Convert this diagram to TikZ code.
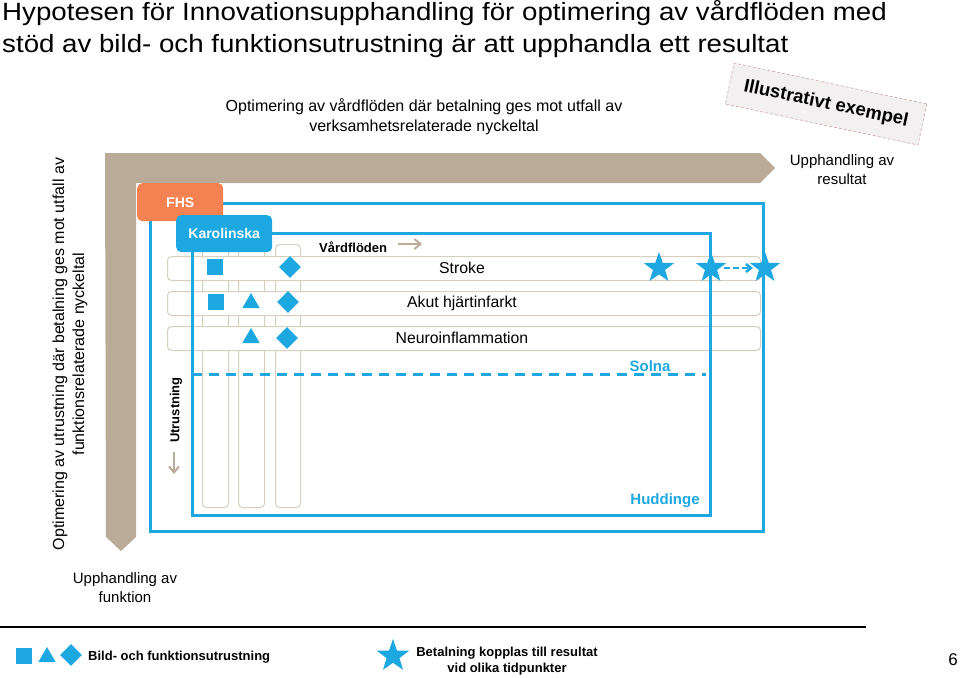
\documentclass[tikz,border=0pt]{standalone}
\usepackage{fontspec}
\setmainfont{Liberation Sans}
\usetikzlibrary{shapes.geometric,arrows.meta}
\definecolor{brn}{RGB}{186,170,152}
\definecolor{brnarr}{RGB}{190,172,155}
\definecolor{blu}{RGB}{30,168,226}
\definecolor{org}{RGB}{245,130,82}
\definecolor{beige}{RGB}{216,208,190}
\definecolor{stampfill}{RGB}{242,240,240}
\definecolor{stampline}{RGB}{200,150,150}
\newcommand{\fsz}[1]{\fontsize{#1}{#1}\selectfont}
\begin{document}
\begin{tikzpicture}[x=1pt,y=-1pt,
  txt/.style={inner sep=0pt, align=center},
  rowbox/.style={draw=beige, line width=1pt, rounded corners=4pt, fill=white, anchor=north west, inner sep=0pt},
  colbox/.style={draw=beige, line width=1pt, rounded corners=4pt, fill=white, anchor=north west, inner sep=0pt},
  bluerect/.style={draw=blu, line width=3pt},
  tab/.style={rounded corners=5pt, inner sep=0pt, text=white, font=\fsz{14}\bfseries, anchor=north west},
  bsq/.style={rectangle, fill=blu, minimum size=16pt, inner sep=0pt},
  btri/.style={regular polygon, regular polygon sides=3, fill=blu, minimum size=20pt, inner sep=0pt},
  bdia/.style={diamond, fill=blu, minimum size=22pt, inner sep=0pt},
  bstar/.style={star, star points=5, star point ratio=2.5, fill=blu, minimum size=32pt, inner sep=0pt},
  rowtxt/.style={txt, font=\fsz{15.8}},
  sitetxt/.style={txt, font=\fsz{15}\bfseries, text=blu}
]
\useasboundingbox (0,0) rectangle (960,677);

% title
\node[txt, anchor=north west, align=left, font=\fsz{25}, xscale=1.107, transform shape] (title) at (2,0)
  {Hypotesen för Innovationsupphandling för optimering av vårdflöden med\\[7pt]stöd av bild- och funktionsutrustning är att upphandla ett resultat};

% top label
\node[txt, font=\fsz{16}] (toplabel) at (424,117) {Optimering av vårdflöden där betalning ges mot utfall av\\[4pt]verksamhetsrelaterade nyckeltal};

% left label
\node[txt, font=\fsz{16}, rotate=90] (leftlabel) at (70,354) {Optimering av utrustning där betalning ges mot utfall av\\[4pt]funktionsrelaterade nyckeltal};

% stamp
\node[draw=stampline, densely dashed, line width=0.5pt, fill=stampfill, rotate=-12, font=\fsz{18.5}\bfseries, minimum width=197pt, minimum height=42pt, inner sep=0pt] (stamp) at (826,104) {Illustrativt exempel};

% brown L-arrow
\fill[brn] (105,153) -- (760,153) -- (775,168) -- (760,183) -- (136,183) -- (136,537) -- (121,551) -- (106,537) -- cycle;

\node[txt, font=\fsz{15}] (upres) at (842,170) {Upphandling av\\[4pt]resultat};
\node[txt, font=\fsz{15}] (upfun) at (125,588) {Upphandling av\\[4pt]funktion};

% columns
\node[colbox, minimum width=26pt, minimum height=263pt] (col1) at (202,244) {};
\node[colbox, minimum width=26pt, minimum height=263pt] (col2) at (238,244) {};
\node[colbox, minimum width=25pt, minimum height=263pt] (col3) at (275,244) {};

% rows
\node[rowbox, minimum width=593pt, minimum height=24pt] (row1) at (167,256) {};
\node[rowbox, minimum width=593pt, minimum height=24pt] (row2) at (167,291) {};
\node[rowbox, minimum width=593pt, minimum height=24pt] (row3) at (167,326) {};

% blue frames
\draw[bluerect] (150,203) rectangle (763,531);
\draw[bluerect] (192,233) rectangle (710,515);
\draw[draw=blu, line width=3pt, dash pattern=on 10pt off 7pt] (192,374) -- (706,374);

% tabs
\node[tab, fill=org, minimum width=86pt, minimum height=38pt] (fhs) at (137,183) {FHS};
\node[tab, fill=blu, minimum width=96pt, minimum height=37pt] (karo) at (176,215) {Karolinska};

% row texts
\node[rowtxt] (stroke) at (462,268) {Stroke};
\node[rowtxt] (akut) at (462,303) {Akut hjärtinfarkt};
\node[rowtxt] (neuro) at (462,338) {Neuroinflammation};

% shapes in rows
\node[bsq] (s1) at (215,267) {};
\node[bdia] (d1) at (290,267) {};
\node[bsq] (s2) at (216,302) {};
\node[btri] (t2) at (251,303) {};
\node[bdia] (d2) at (288,302) {};
\node[btri] (t3) at (251,338) {};
\node[bdia] (d3) at (287,338) {};

% stars
\node[bstar] (st1) at (659,268) {};
\node[bstar] (st2) at (711,268) {};
\node[bstar] (st3) at (765,268) {};
\draw[blu, line width=2.5pt, dash pattern=on 6pt off 3pt, -{Straight Barb[length=5pt,width=8pt]}] (st2.east) ++(4,0) coordinate (sa) (sa) -- ([xshift=-3pt]st3.west);

% Vårdflöden
\node[txt, font=\fsz{13}\bfseries, anchor=west] (vard) at (319,247) {Vårdflöden};
\coordinate (va1) at (398,244);
\coordinate (va2) at (422,244);
\draw[brnarr, line width=2pt, -{Straight Barb[length=6pt,width=10pt]}] (va1) -- (va2);

% Utrustning
\node[txt, font=\fsz{13}\bfseries, rotate=90] (utr) at (176,410) {Utrustning};
\coordinate (ua1) at (174,452);
\coordinate (ua2) at (174,474);
\draw[brnarr, line width=2pt, -{Straight Barb[length=6pt,width=10pt]}] (ua1) -- (ua2);

% site labels
\node[sitetxt] (solna) at (650,366) {Solna};
\node[sitetxt] (hudd) at (665,501) {Huddinge};

% bottom rule
\coordinate (r1) at (0,627);
\coordinate (r2) at (866,627);
\draw[black, line width=1.5pt] (r1) -- (r2);

% legend
\node[bsq] (ls) at (24,656) {};
\node[btri] (lt) at (47,657) {};
\node[bdia] (ld) at (71,655) {};
\node[txt, font=\fsz{13}\bfseries, anchor=west] (ltxt) at (88,657) {Bild- och funktionsutrustning};
\node[bstar, minimum size=34pt] (lstar) at (393,656) {};
\node[txt, font=\fsz{13}\bfseries] (ltxt2) at (507,661) {Betalning kopplas till resultat\\[3pt]vid olika tidpunkter};
\node[txt, font=\fsz{17}] (pnum) at (953,660) {6};
\end{tikzpicture}
\end{document}
